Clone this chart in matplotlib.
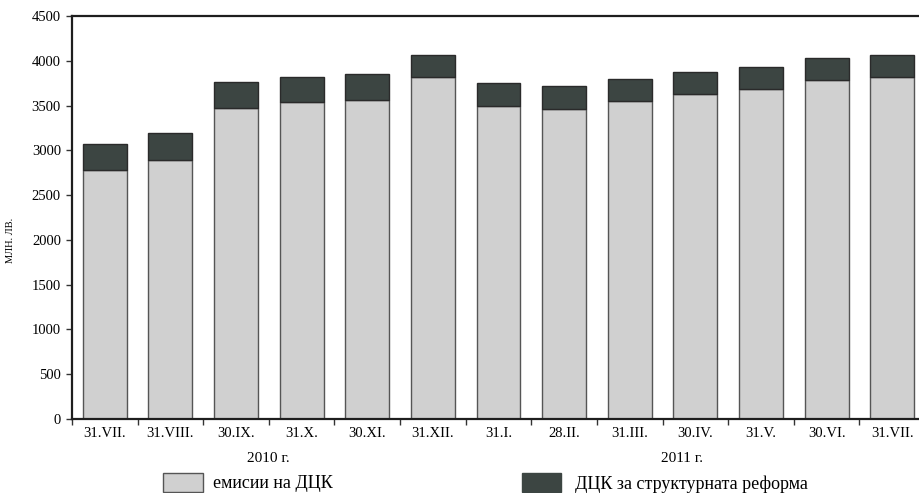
import matplotlib
matplotlib.use("Agg")
import matplotlib.pyplot as plt
from matplotlib.patches import Rectangle
import numpy as np

categories = ["31.VII.", "31.VIII.", "30.IX.", "31.X.", "30.XI.", "31.XII.",
              "31.I.", "28.II.", "31.III.", "30.IV.", "31.V.", "30.VI.", "31.VII."]
emissions = [2780, 2895, 3470, 3535, 3560, 3815, 3490, 3465, 3550, 3630, 3685, 3790, 3820]
structural = [290, 300, 290, 280, 290, 250, 260, 255, 250, 245, 250, 245, 250]
year_labels = ["2010 г.", "2011 г."]
legend_labels = ["емисии на ДЦК", "ДЦК за структурната реформа"]
y_ticks = [0, 500, 1000, 1500, 2000, 2500, 3000, 3500, 4000, 4500]

light = "#d0d0d0"
dark = "#3c4542"
font = ["Liberation Serif", "DejaVu Serif"]
plt.rcParams["font.family"] = font

W, H = 919, 493
fig = plt.figure(figsize=(W / 100, H / 100), dpi=100)
ax = fig.add_axes([72 / W, (H - 419) / H, 853 / W, 403 / H])

x = np.arange(len(categories))
ax.bar(x, emissions, width=0.67, color=light, edgecolor="#555555", linewidth=1.0, zorder=2)
ax.bar(x, structural, bottom=emissions, width=0.67, color=dark, edgecolor="#2a2a2a",
       linewidth=1.0, zorder=2)

ax.set_xlim(-0.5, len(categories) - 0.5)
ax.set_ylim(0, 4500)
ax.set_yticks(y_ticks)
ax.set_yticklabels([str(v) for v in y_ticks], fontsize=10.5)
ax.set_xticks(x)
ax.set_xticklabels(categories, fontsize=10.5)
ax.tick_params(axis="x", length=0, pad=6)
ax.set_xticks(np.arange(-0.5, len(categories), 1.0), minor=True)
ax.tick_params(axis="x", which="minor", length=4, width=1, color="#333333", direction="out")
ax.tick_params(axis="y", length=4, width=1, color="#333333", direction="out", pad=4)

for side in ["left", "top", "bottom"]:
    ax.spines[side].set_linewidth(1.6)
    ax.spines[side].set_color("#1e1e1e")
ax.spines["right"].set_visible(False)

fig.text(11 / W, 1 - 240 / H, "МЛН. ЛВ.", rotation=90, fontsize=7.5,
         ha="center", va="center")

fig.text(268 / W, 1 - 458 / H, year_labels[0], fontsize=11, ha="center", va="center")
fig.text(682 / W, 1 - 458 / H, year_labels[1], fontsize=11, ha="center", va="center")

# legend
fig.add_artist(Rectangle((163 / W, 1 - 492 / H), 40 / W, 19 / H, transform=fig.transFigure,
                         facecolor=light, edgecolor="#555555", linewidth=1.0))
fig.text(213 / W, 1 - 484 / H, legend_labels[0], fontsize=13, ha="left", va="center")
fig.add_artist(Rectangle((522 / W, 1 - 492 / H), 39 / W, 19 / H, transform=fig.transFigure,
                         facecolor=dark, edgecolor=dark, linewidth=1.0))
fig.text(575 / W, 1 - 484 / H, legend_labels[1], fontsize=13, ha="left", va="center")

fig.savefig("out.png", dpi=100)
